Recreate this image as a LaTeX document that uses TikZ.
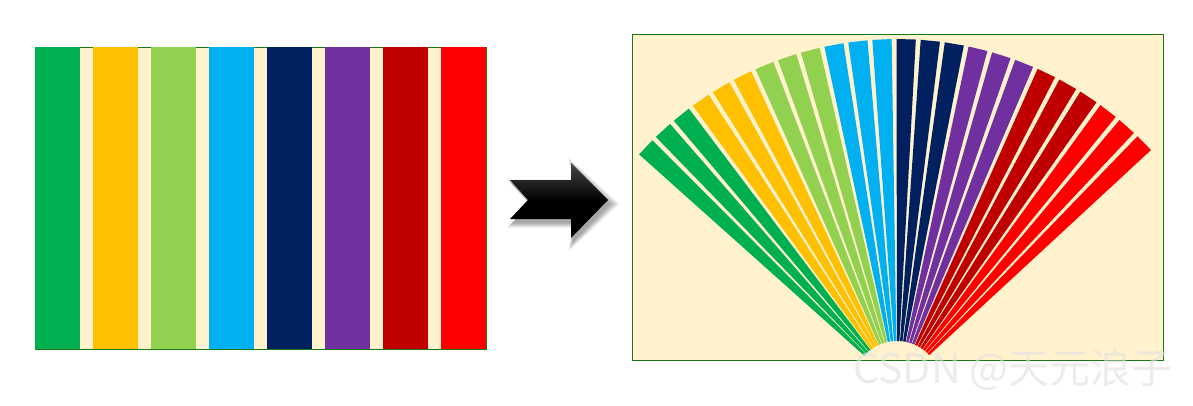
\documentclass[tikz,border=0pt]{standalone}
\usepackage{fontspec}
\usetikzlibrary{calc}
\newfontfamily\cjk{Noto Sans CJK SC}
\definecolor{cGreen}{HTML}{00B050}
\definecolor{cYellow}{HTML}{FFC000}
\definecolor{cLime}{HTML}{92D050}
\definecolor{cBlue}{HTML}{00B0F0}
\definecolor{cNavy}{HTML}{002060}
\definecolor{cPurple}{HTML}{7030A0}
\definecolor{cDark}{HTML}{C00000}
\definecolor{cRed}{HTML}{FF0000}
\definecolor{cream}{HTML}{FFF2CC}
\definecolor{frame}{HTML}{1A7A1A}
\tikzset{
  panel/.style={fill=cream, draw=frame, line width=0.9pt},
  arrowshape/.style={shading=axis, top color=black!72, bottom color=black, middle color=black},
  shadowpart/.style={fill=black, opacity=0.045},
  mark text/.style={text=black!12, opacity=0.6, font=\cjk\fontsize{41}{41}\selectfont}
}
\begin{document}
\begin{tikzpicture}[x=1pt,y=-1pt]
\useasboundingbox (0,0) rectangle (1193,405);
\fill[white] (0,0) rectangle (1193,405);
% left panel
\draw[panel] (35,47) rectangle (486,349);
\foreach \c [count=\i from 0] in {cGreen,cYellow,cLime,cBlue,cNavy,cPurple,cDark,cRed}{
  \fill[\c] ({35+58*\i},46.5) rectangle ({80+58*\i},348.5);
}
% arrow with soft shadow
\foreach \k in {0,1,...,8}{
  \fill[shadowpart] ({510+2-0.6*\k},{180+4-0.6*\k}) -- ({571+2},{180+4-0.6*\k}) -- ({571+2-0.6*\k},{163+4-1.2*\k}) -- ({608+2+1.2*\k},{200+4}) -- ({571+2-0.6*\k},{238+4+1.2*\k}) -- ({571+2},{219+4+0.6*\k}) -- ({510+2-0.6*\k},{219+4+0.6*\k}) -- ({528+2},{200+4}) -- cycle;
}
\shade[arrowshape] (510,180) -- (571,180) -- (571,163) -- (608,200) -- (571,238) -- (571,219) -- (510,219) -- (528,200) -- cycle;
% right panel
\draw[panel] (632,34) rectangle (1163,360);
\coordinate (C) at (897,385);
\foreach \c [count=\j from 0] in {cGreen,cYellow,cLime,cBlue,cNavy,cPurple,cDark,cRed}{
  \foreach \m in {0,1,2}{
    \pgfmathsetmacro{\aa}{138.2-4.01*(3*\j+\m)}
    \pgfmathsetmacro{\ab}{\aa-3.2}
    \fill[\c] ($(C)+(\aa:44pt)$) -- ($(C)+(\aa:346pt)$) -- ($(C)+(\ab:346pt)$) -- ($(C)+(\ab:44pt)$) -- cycle;
  }
}
% watermark
\node[mark text, anchor=center] (wm) at (1013,370) {CSDN @天元浪子};
\end{tikzpicture}
\end{document}
